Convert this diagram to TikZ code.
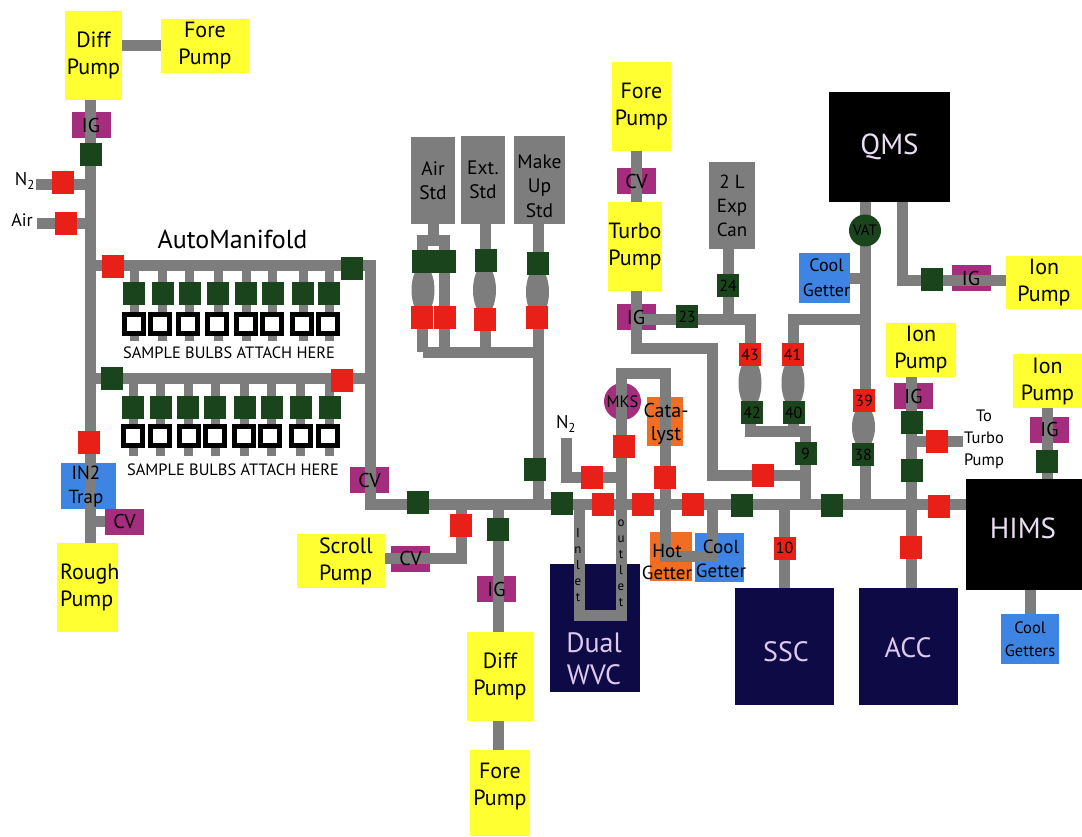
\documentclass[tikz,border=0pt]{standalone}
\usepackage{fontspec}
\setmainfont{PT Sans}
\usetikzlibrary{shapes,shapes.geometric,calc,backgrounds}
\definecolor{pumpcol}{RGB}{255,255,50}
\definecolor{pipecol}{RGB}{125,125,125}
\definecolor{redcol}{RGB}{232,32,24}
\definecolor{grncol}{RGB}{25,68,28}
\definecolor{ppcol}{RGB}{165,45,125}
\definecolor{blucol}{RGB}{62,132,226}
\definecolor{orgcol}{RGB}{240,110,36}
\definecolor{navcol}{RGB}{14,10,70}
\definecolor{lilcol}{RGB}{222,200,236}
\pgfdeclarelayer{under}
\pgfdeclarelayer{pipes}
\pgfsetlayers{under,pipes,main}
\begin{document}
\begin{tikzpicture}[
  x=1pt, y=-1pt,
  pump/.style={fill=pumpcol, inner sep=0pt, align=center,
    font=\fontsize{22}{27}\selectfont},
  stdbox/.style={fill=pipecol, inner sep=0pt, align=center,
    font=\fontsize{19.5}{24.5}\selectfont},
  redv/.style={fill=redcol, minimum width=22pt, minimum height=23pt, inner sep=0pt,
    font=\fontsize{16}{16}\selectfont},
  grnv/.style={fill=grncol, minimum width=22pt, minimum height=23pt, inner sep=0pt,
    font=\fontsize{16}{16}\selectfont},
  gauge/.style={fill=ppcol, minimum width=39pt, minimum height=26pt, inner sep=0pt},
  under/.style={inner sep=0pt},
  bulb/.style={draw=black, fill=white, line width=5pt, minimum size=19pt, inner sep=0pt},
  bulge/.style={fill=pipecol, ellipse, minimum width=23pt, minimum height=50pt, inner sep=0pt},
  dark/.style={fill=navcol, text=lilcol, inner sep=0pt, align=center,
    font=\fontsize{28}{32}\selectfont},
  blk/.style={fill=black, text=lilcol!60!white, inner sep=0pt, align=center,
    font=\fontsize{29}{32}\selectfont},
  lbl/.style={inner sep=0pt, align=center, font=\fontsize{20}{24}\selectfont},
  small/.style={inner sep=0pt, align=center, font=\fontsize{16.5}{22}\selectfont},
  stack/.style={inner sep=0pt, align=center, font=\fontsize{13}{16}\selectfont},
  sample/.style={inner sep=0pt, font=\fontsize{16.4}{16.4}\selectfont},
  pipe/.style={draw=pipecol, line width=11pt, line join=miter},
  stub/.style={draw=pipecol, line width=9pt}
]
\useasboundingbox (0,0) rectangle (1082,836);
%% ─── Boxes the pipes run over ──────────────────────────────────────────────
\begin{pgfonlayer}{under}
\node[gauge] (igA)  at (91,   125)   {};
\node[gauge] (cvA)  at (124.5,521.5) {};
\node[gauge] (cvB)  at (369.5,480)   {};
\node[gauge] (cvC)  at (410.5,558.5) {};
\node[gauge] (igB)  at (496.5,589)   {};
\node[gauge] (cvD)  at (636.5,181)   {};
\node[gauge] (igC)  at (636,  317)   {};
\node[gauge] (igD)  at (971,  278)   {};
\node[gauge] (igE)  at (913.5,396)   {};
\node[gauge] (igF)  at (1049.5,429.5) {};
\node[under, fill=blucol, minimum width=55pt, minimum height=46pt] (trap)  at (88.5,486)   {};
\node[under, fill=orgcol, minimum width=36pt, minimum height=49pt] (cata)  at (665, 421.5) {};
\node[under, fill=orgcol, minimum width=42pt, minimum height=49pt] (hotg)  at (671, 556.5) {};
\node[under, fill=blucol, minimum width=49pt, minimum height=49pt] (coolA) at (719.5,557.5) {};
\node[under, fill=ppcol, circle, minimum size=37pt] (mks) at (622.5,401.5) {};
\node[dark, minimum width=90pt, minimum height=128pt] (wvc) at (595,628) {};
\end{pgfonlayer}
%% ─── Pumps and vessels ─────────────────────────────────────────────────────
\node[pump, minimum width=57pt, minimum height=89pt] (diffA)  at (93.5,55.5) {Diff\\Pump};
\node[pump, minimum width=88pt, minimum height=54pt] (foreA)  at (205, 45.5) {Fore\\Pump};
\node[pump, minimum width=61pt, minimum height=89pt, text width=61pt, align=left] (rough) at (87.5,587.5) {\hspace*{3pt}Rough\\\hspace*{3pt}Pump};
\node[pump, minimum width=88pt, minimum height=54pt, text width=88pt, align=left] (scroll) at (341,561) {\hspace*{22pt}Scroll\\\hspace*{22pt}Pump};
\node[pump, minimum width=66pt, minimum height=89pt] (diffB)  at (500,676.5) {Diff\\Pump};
\node[pump, minimum width=60pt, minimum height=86pt] (foreB)  at (500,793) {Fore\\Pump\\[-10pt]~};
\node[pump, minimum width=59pt, minimum height=89pt] (foreC)  at (641.5,106.5) {Fore\\Pump};
\node[pump, minimum width=54pt, minimum height=89pt] (turbo)  at (635,246.5) {Turbo\\Pump};
\node[pump, minimum width=76pt, minimum height=53pt] (ionA)   at (1044,282.5) {Ion\\Pump};
\node[pump, minimum width=70pt, minimum height=54pt] (ionB)   at (921,349.5) {Ion\\Pump};
\node[pump, minimum width=69pt, minimum height=54pt] (ionC)   at (1047.5,381) {Ion\\Pump};
\node[stdbox, minimum width=44pt, minimum height=87pt] (airS) at (433,180.5) {Air\\Std};
\node[stdbox, minimum width=44pt, minimum height=88pt] (extS) at (483,180)   {Ext.\\Std};
\node[stdbox, minimum width=51pt, minimum height=88pt] (mkS)  at (539.5,180) {};
\node[stdbox, minimum width=46pt, minimum height=87pt, font=\fontsize{19}{24}\selectfont] (can) at (732,205.5) {2 L\\Exp\\Can};
\node[under, fill=blucol, align=center, minimum width=49pt, minimum height=50pt, font=\fontsize{18}{25}\selectfont] (coolB) at (824.5,278) {\hspace*{4pt}Cool\\\hspace*{4pt}Getter};
\node[under, fill=blucol, align=center, minimum width=58pt, minimum height=50pt, font=\fontsize{16.5}{23}\selectfont] (coolC) at (1030,639) {Cool\\Getters};
\node[blk, minimum width=121pt, minimum height=110pt] (qms)  at (889.5,147) {QMS};
\node[blk, minimum width=116pt, minimum height=111pt] (hims) at (1024,534)  {};
\node[dark, minimum width=99pt, minimum height=117pt] (ssc)  at (784.5,646.5) {};
\node[dark, minimum width=99pt, minimum height=117pt] (acc)  at (908.5,646.5) {};
%% ─── Bulges between the valves ─────────────────────────────────────────────
\node[bulge] (blgA) at (423,  290) {};
\node[bulge, minimum width=8pt] (blgB) at (444.5,290) {};
\node[bulge] (blgC) at (484.5,290) {};
\node[bulge] (blgD) at (537.5,292) {};
\node[bulge] (blgE) at (750,  383) {};
\node[bulge] (blgF) at (793,  383) {};
\node[bulge, minimum height=44pt] (blgG) at (863.5,427) {};
%% ─── Valves ────────────────────────────────────────────────────────────────
\node[grnv] (gA)  at (90.5,154.5) {};
\node[redv] (rN)  at (63,  182)   {};
\node[redv] (rAr) at (66,  223)   {};
\node[redv] (rT)  at (113, 266)   {};
\node[grnv] (gT)  at (352, 268)   {};
\node[grnv] (gM)  at (112, 378.5) {};
\node[redv] (rM)  at (342, 380)   {};
\node[redv] (rB)  at (89,  442.5) {};
\node[grnv] (gL)  at (418, 502)   {};
\node[redv] (rS)  at (461, 525)   {};
\node[grnv] (gD)  at (498, 529.5) {};
\node[grnv] (gS1) at (422.5,261.5) {};
\node[grnv] (gS2) at (444.5,261.5) {};
\node[grnv] (gS3) at (485.5,260.5) {};
\node[grnv] (gS4) at (538,  263)   {};
\node[redv] (rS1) at (421.5,317.5) {};
\node[redv] (rS2) at (445,  317.5) {};
\node[redv] (rS3) at (485,  319)   {};
\node[redv] (rS4) at (536.5,317.5) {};
\node[grnv] (gK)  at (535,  469.5) {};
\node[grnv] (gF)  at (562,  503.5) {};
\node[redv] (rF1) at (603,  504.5) {};
\node[redv] (rF2) at (643,  504.5) {};
\node[redv] (rF3) at (693,  504.5) {};
\node[redv] (rO)  at (624,  446.5) {};
\node[redv] (rN2) at (592,  477.5) {};
\node[redv] (rC)  at (665,  477.5) {};
\node[grnv] (g23) at (687,  316.5) {23};
\node[grnv] (g24) at (728,  285.5) {24};
\node[redv] (r43) at (750,  354.5) {43};
\node[grnv] (g42) at (752,  412.5) {42};
\node[redv] (r41) at (792.5,354.5) {41};
\node[grnv] (g40) at (793.5,412.5) {40};
\node[grnv] (g9)  at (805.5,453.5) {9};
\node[redv] (rL)  at (763,  475.5) {};
\node[redv] (r39) at (864,  400.5) {39};
\node[grnv] (g38) at (863,  454.5) {38};
\node[grnv] (gG1) at (742,  505.5) {};
\node[grnv] (gG2) at (832,  505.5) {};
\node[redv] (r10) at (784.5,548)   {10};
\node[grnv] (gQ)  at (932,  279.5) {};
\node[grnv] (gI1) at (911.5,422)   {};
\node[grnv] (gI2) at (911.5,470.5) {};
\node[redv] (rTb) at (937,  441.5) {};
\node[redv] (rH)  at (939,  506)   {};
\node[redv] (rA)  at (911,  547.5) {};
\node[grnv] (gJ)  at (1047, 461.5) {};
\node[fill=grncol, circle, minimum size=32pt, inner sep=0pt] (vat) at (865,230.5) {};
%% ─── Free ends and corners ─────────────────────────────────────────────────
\coordinate (n2a)  at (36,184);
\coordinate (aira) at (37,223);
\coordinate (cnrT) at (370,265.5);
\coordinate (cnrB) at (370,504);
\coordinate (split) at (433,240.5);
\coordinate (bench) at (538,352);
\coordinate (lnkT) at (712,348);
\coordinate (lnkB) at (712,475.5);
\coordinate (cnr43) at (750,319);
\coordinate (cnr41) at (793,319);
\coordinate (bar40) at (805.5,431);
\coordinate (cnrQ) at (902.5,280);
\coordinate (toTb) at (963,441.5);
\coordinate (n2m)  at (566.5,438);
\coordinate (inB)  at (579,615);
\coordinate (outB) at (621,615);
\coordinate (outT) at (621,373);
\coordinate (catT) at (665.5,373);
\coordinate (gtrB) at (712.5,556);
%% ─── Pipes ─────────────────────────────────────────────────────────────────
\begin{pgfonlayer}{pipes}
\draw[pipe] (gA |- diffA) -- (gA |- rough);
\draw[pipe] (diffA |- foreA) -- (foreA);
\draw[pipe] (n2a) -- (n2a -| gA);
\draw[pipe] (aira) -- (aira -| gA);
\draw[pipe] (gA |- cvA) -- (cvA);
\draw[pipe] (gA |- cnrT) -- (cnrT) -- (cnrB) -- (cnrB -| hims);
\draw[pipe] (gA |- gM) -- (gM -| cnrT);
\draw[pipe] (rS |- cnrB) -- (rS |- cvC) -- (cvC -| scroll);
\draw[pipe] (gD |- cnrB) -- (gD |- foreB);
\draw[pipe] (airS) -- (airS |- split);
\draw[pipe] (gS1 |- bench) -- (gS1 |- split) -- (gS2 |- split) -- (gS2 |- bench);
\draw[pipe] (gS3 |- extS) -- (gS3 |- bench);
\draw[pipe] (gS1 |- bench) -- (bench);
\draw[pipe] (bench |- mkS) -- (bench |- cnrB);
\draw[pipe] (turbo -| cvD) -- (foreC -| cvD);
\draw[pipe] (igC |- turbo) -- (igC |- lnkT) -- (lnkT) -- (lnkB) -- (lnkB -| g9);
\draw[pipe] (igC |- cnr43) -- (cnr43) -- (r43 |- bar40) -- (bar40) -- (g9) -- (g9 |- cnrB);
\draw[pipe] (g24 |- can) -- (g24 |- cnr43);
\draw[pipe] (vat |- cnr41) -- (cnr41) -- (cnr41 |- bar40);
\draw[pipe] (vat |- qms) -- (vat |- cnrB);
\draw[pipe] (coolB) -- (coolB -| vat);
\draw[pipe] (cnrQ |- qms) -- (cnrQ) -- (cnrQ -| ionA);
\draw[pipe] (gI1 |- ionB) -- (gI1 |- acc);
\draw[pipe] (gI1 |- toTb) -- (toTb);
\draw[pipe] (gJ |- ionC) -- (gJ |- hims);
\draw[pipe] (coolC |- hims) -- (coolC);
\draw[pipe] (r10 |- cnrB) -- (r10 |- ssc);
\draw[pipe] (inB |- cnrB) -- (inB) -- (outB) -- (outT) -- (catT) -- (catT |- gtrB) -- (gtrB) -- (gtrB |- cnrB);
\draw[pipe] (n2m) -- (n2m |- rN2) -- (rN2 -| outB);
\end{pgfonlayer}
%% ─── Sample rows of the manifold ───────────────────────────────────────────
\foreach \i/\x/\b in {1/134/134,2/162.5/160,3/189.5/188,4/218/217,5/246/246,6/272.5/272,7/303/302,8/329/328}{
  \node[grnv] (gU\i) at (\x,293.5) {};
  \node[bulb] (bU\i) at (\b,323.5) {};
  \begin{pgfonlayer}{pipes}
  \draw[stub] (gU\i |- cnrT) -- (\x,341);
  \end{pgfonlayer}
}
\foreach \i/\x/\b in {1/133/133,2/160.5/160,3/188/188.5,4/215/215,5/244.5/244,6/271.5/270,7/300.5/301,8/329.5/328}{
  \node[grnv] (gV\i) at (\x,407) {};
  \node[bulb] (bV\i) at (\b,435.5) {};
  \begin{pgfonlayer}{pipes}
  \draw[stub] (gV\i |- gM) -- (\x,456);
  \end{pgfonlayer}
}
%% ─── Labels ────────────────────────────────────────────────────────────────
\node[lbl] (igAt) at (igA) {IG};
\node[lbl] (cvAt) at (cvA) {CV};
\node[lbl] (cvBt) at (cvB) {CV};
\node[lbl] (cvCt) at (cvC) {CV};
\node[lbl] (igBt) at (igB) {IG};
\node[lbl] (cvDt) at (cvD) {CV};
\node[lbl] (igCt) at (igC) {IG};
\node[lbl] (igDt) at (igD) {IG};
\node[lbl] (igEt) at (igE) {IG};
\node[lbl] (igFt) at (igF) {IG};
\node[lbl, font=\fontsize{19}{24}\selectfont] (trapt) at (86,487) {IN2\\Trap};
\node[lbl, font=\fontsize{20}{23}\selectfont] (catat) at (666,424) {Cata-\\lyst};
\node[lbl, font=\fontsize{19}{22}\selectfont] (hotgt) at (667,562) {Hot\\Getter};
\node[lbl, font=\fontsize{19}{24}\selectfont] (coolAt) at (721,559) {Cool\\Getter};
\node[lbl, font=\fontsize{16.5}{17}\selectfont] (mkst) at (622.5,401.5) {MKS};
\node[lbl, font=\fontsize{15}{15}\selectfont] (vatt) at (vat) {VAT};
\node[stack] (inlt) at (578,565) {I\\n\\l\\e\\t};
\node[stack] (outt) at (621,563) {o\\u\\t\\l\\e\\t};
\node[dark, fill=none] (wvct) at (594,659) {Dual\\WVC};
\node[dark, fill=none] (ssct) at (786,652) {SSC};
\node[dark, fill=none] (acct) at (908,648) {ACC};
\node[blk, fill=none] (himst) at (1023,528) {HIMS};
\node[stdbox, fill=none] (mkSt) at (539.5,186) {Make\\Up\\Std};
\node[lbl, font=\fontsize{18.5}{18}\selectfont] (n2t)  at (25,181)  {N\textsubscript{2}};
\node[lbl, font=\fontsize{18}{18}\selectfont] (airt) at (22,220)  {Air};
\node[lbl, font=\fontsize{18.5}{18}\selectfont] (n2u)  at (566,424) {N\textsubscript{2}};
\node[small] (tot) at (984,439) {To\\Turbo\\Pump};
\node[inner sep=0pt, font=\fontsize{26}{26}\selectfont] (amf) at (232.5,239) {AutoManifold};
\node[sample] (smpA) at (229,353) {SAMPLE BULBS ATTACH HERE};
\node[sample] (smpB) at (233,470) {SAMPLE BULBS ATTACH HERE};
\end{tikzpicture}
\end{document}
